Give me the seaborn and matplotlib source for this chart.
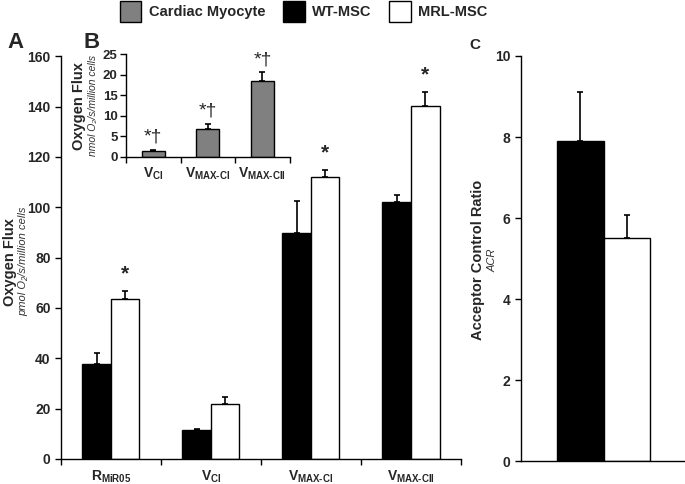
import numpy as np
import pandas as pd
import matplotlib
matplotlib.use("Agg")
import matplotlib.pyplot as plt
from matplotlib.patches import Patch
import seaborn as sns

# values
states = [r"$\mathbf{R}_{\mathbf{MiR05}}$", r"$\mathbf{V}_{\mathbf{CI}}$",
          r"$\mathbf{V}_{\mathbf{MAX\text{-}CI}}$", r"$\mathbf{V}_{\mathbf{MAX\text{-}CII}}$"]
wt_flux = [37.7, 11.6, 89.6, 102.0]
wt_err = [4.3, 0.5, 12.8, 3.0]
mrl_flux = [63.5, 21.8, 112.0, 140.2]
mrl_err = [3.4, 2.9, 2.7, 5.8]
mrl_star = [True, False, True, True]

cm_states = states[1:]
cm_flux = [1.46, 6.9, 18.5]
cm_err = [0.25, 1.1, 2.1]

acr_wt = 7.9
acr_wt_err = 1.2
acr_mrl = 5.5
acr_mrl_err = 0.58

sns.set_style("white")
plt.rcParams['font.family'] = ['Liberation Sans', 'DejaVu Sans']
plt.rcParams['mathtext.fontset'] = 'custom'
plt.rcParams['mathtext.rm'] = 'Liberation Sans:bold'
plt.rcParams['mathtext.bf'] = 'Liberation Sans:bold'
plt.rcParams['mathtext.it'] = 'Liberation Sans:italic'
plt.rcParams['axes.linewidth'] = 1.0


def style_axes(ax, size=10):
    sns.despine(ax=ax)
    for s in ['left', 'bottom']:
        ax.spines[s].set_color('black')
    ax.tick_params(axis='both', which='both', direction='out', color='black',
                   width=1, length=4, labelsize=size, bottom=True, left=True)
    for lab in ax.get_yticklabels():
        lab.set_fontweight('bold')


def add_errbars(ax, means, errs):
    # bars sorted left to right, match to means in the same order
    bars = sorted([p for p in ax.patches if p.get_height() > 0], key=lambda p: p.get_x())
    xs = [b.get_x() + b.get_width() / 2 for b in bars]
    ax.errorbar(xs, means, yerr=[np.zeros(len(errs)), errs], fmt='none',
                ecolor='black', elinewidth=1.2, capsize=2.5, capthick=1.2, zorder=1)
    return xs


fig = plt.figure(figsize=(6.85, 4.84), dpi=100)

# ---- panel A
axA = fig.add_axes([0.089, 0.0517, 0.584, 0.832])
dfA = pd.DataFrame({
    'state': states * 2,
    'flux': wt_flux + mrl_flux,
    'cell': ['WT-MSC'] * 4 + ['MRL-MSC'] * 4,
})
sns.barplot(data=dfA, x='state', y='flux', hue='cell', palette=['black', 'white'],
            edgecolor='black', linewidth=1, width=0.57, errorbar=None, legend=False, ax=axA)
means = []
errs = []
for i in range(4):
    means += [wt_flux[i], mrl_flux[i]]
    errs += [wt_err[i], mrl_err[i]]
xs = add_errbars(axA, means, errs)
for i in range(4):
    if mrl_star[i]:
        axA.text(xs[2 * i + 1], mrl_flux[i] + mrl_err[i] + 3, '*', ha='center', va='bottom',
                 fontsize=15, fontweight='bold')
axA.set_xlim(-0.5, 3.5)
axA.set_ylim(0, 160)
axA.set_yticks(np.arange(0, 161, 20))
axA.set_xticks(range(4))
axA.set_xticklabels(states, fontsize=10)
axA.set_xticks(np.arange(-0.5, 3.6, 1), minor=True)
axA.set_xlabel('')
axA.set_ylabel('')
style_axes(axA)
axA.tick_params(axis='x', which='major', length=0, pad=7)
axA.text(-0.128, 0.49, 'Oxygen Flux', transform=axA.transAxes, rotation=90,
         ha='center', va='center', fontsize=10.5, fontweight='bold')
axA.text(-0.095, 0.49, 'pmol O₂/s/million cells', transform=axA.transAxes, rotation=90,
         ha='center', va='center', fontsize=8, style='italic', color='#333333')

# ---- panel B (inset)
axB = fig.add_axes([0.184, 0.676, 0.239, 0.2116])
dfB = pd.DataFrame({'state': cm_states, 'flux': cm_flux})
sns.barplot(data=dfB, x='state', y='flux', color='#808080', saturation=1,
            edgecolor='black', linewidth=1, width=0.42, errorbar=None, ax=axB)
xsB = add_errbars(axB, cm_flux, cm_err)
for x, m, e in zip(xsB, cm_flux, cm_err):
    axB.text(x, m + e + 1.0, '*†', ha='center', va='bottom', fontsize=14, clip_on=False)
axB.set_xlim(-0.5, 2.5)
axB.set_ylim(0, 25)
axB.set_yticks(np.arange(0, 26, 5))
axB.set_xticks(range(3))
axB.set_xticklabels(cm_states, fontsize=10)
axB.set_xticks(np.arange(-0.5, 2.6, 1), minor=True)
axB.set_xlabel('')
axB.set_ylabel('')
style_axes(axB, size=9.5)
axB.tick_params(axis='y', pad=2)
axB.tick_params(axis='x', which='major', length=0, pad=6, labelsize=10)
axB.patch.set_alpha(0)
axB.text(-0.29, 0.5, 'Oxygen Flux', transform=axB.transAxes, rotation=90,
         ha='center', va='center', fontsize=10.5, fontweight='bold')
axB.text(-0.2, 0.5, 'nmol O₂/s/million cells', transform=axB.transAxes, rotation=90,
         ha='center', va='center', fontsize=7.5, style='italic', color='#333333')

# ---- panel C
axC = fig.add_axes([0.7606, 0.0475, 0.241, 0.8368])
dfC = pd.DataFrame({'x': ['ACR', 'ACR'], 'ratio': [acr_wt, acr_mrl],
                    'cell': ['WT-MSC', 'MRL-MSC']})
sns.barplot(data=dfC, x='x', y='ratio', hue='cell', palette=['black', 'white'],
            edgecolor='black', linewidth=1, width=0.565, errorbar=None, legend=False, ax=axC)
add_errbars(axC, [acr_wt, acr_mrl], [acr_wt_err, acr_mrl_err])
axC.set_xlim(-0.5, 0.5)
axC.set_ylim(0, 10)
axC.set_yticks(np.arange(0, 11, 2))
axC.set_xticks([])
axC.set_xlabel('')
axC.set_ylabel('')
style_axes(axC)
axC.text(-0.26, 0.496, 'Acceptor Control Ratio', transform=axC.transAxes, rotation=90,
         ha='center', va='center', fontsize=10.5, fontweight='bold')
axC.text(-0.17, 0.496, 'ACR', transform=axC.transAxes, rotation=90,
         ha='center', va='center', fontsize=8, style='italic', color='#333333')

# panel letters
fig.text(16 / 685, 1 - 42 / 484, 'A', fontsize=16, fontweight='bold', ha='center', va='center')
fig.text(92 / 685, 1 - 42 / 484, 'B', fontsize=16, fontweight='bold', ha='center', va='center')
fig.text(475 / 685, 1 - 45 / 484, 'C', fontsize=11, fontweight='bold', ha='center', va='center')

# legend
handles = [Patch(facecolor='#808080', edgecolor='black', label='Cardiac Myocyte'),
           Patch(facecolor='black', edgecolor='black', label='WT-MSC'),
           Patch(facecolor='white', edgecolor='black', label='MRL-MSC')]
fig.legend(handles=handles, loc='upper center', bbox_to_anchor=(0.443, 1.025), ncol=3,
           frameon=False, prop={'weight': 'bold', 'size': 10.5}, handlelength=1.5,
           handleheight=1.8, handletextpad=0.5, columnspacing=1.2)

fig.savefig('out.png', dpi=100)
